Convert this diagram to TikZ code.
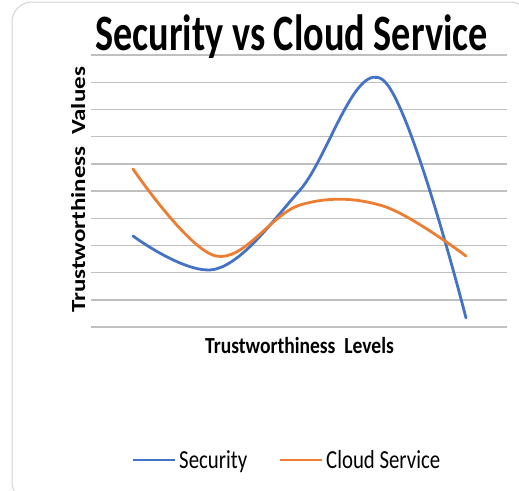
\documentclass[tikz,border=0pt]{standalone}
\usepackage{fontspec}
\setmainfont{Carlito}
\usetikzlibrary{calc}
\definecolor{secblue}{HTML}{4472C4}
\definecolor{cloudorange}{HTML}{ED7D31}
\definecolor{gridgray}{HTML}{BFBFBF}
\definecolor{framegray}{HTML}{D4D4D4}
\tikzset{
  gridline/.style={draw=gridgray, line width=1.4pt},
  series/.style={line width=2.8pt, line cap=round, line join=round},
  legendline/.style={line width=2.8pt},
  lbl/.style={inner sep=0pt, text=black},
}
\begin{document}
\begin{tikzpicture}[x=1pt, y=-1pt]
  \useasboundingbox (0,0) rectangle (519,490);
  \fill[white] (0,0) rectangle (519,490);
  \begin{scope}
    \clip (0,0) rectangle (519,490);
    \draw[framegray, line width=1pt, rounded corners=20pt] (12,2) rectangle (530,502);
  \end{scope}

  % horizontal value gridlines
  \foreach \k in {0,...,10}
    \draw[gridline] (91,{55+27.2*\k}) -- (507,{55+27.2*\k});

  % data series
  \draw[series, secblue] plot[smooth, tension=0.6] coordinates
    {(133,236) (216,269) (300,190) (383,80) (466,318)};
  \draw[series, cloudorange] plot[smooth, tension=0.6] coordinates
    {(133,169) (216,256) (300,205) (383,206) (466,256)};

  % titles
  \node[lbl, anchor=base] (title) at (291.5,50)
    {\scalebox{0.75}[1]{\fontsize{51}{51}\selectfont\bfseries Security vs Cloud Service}};
  \node[lbl, anchor=base, rotate=90] (ylab) at (85,190)
    {\scalebox{1}[0.8]{\fontsize{25}{25}\selectfont\bfseries Trustworthiness\ \ Values}};
  \node[lbl, anchor=base] (xlab) at (299.5,353)
    {\scalebox{0.85}[1]{\fontsize{23}{23}\selectfont\bfseries Trustworthiness\ \ Levels}};

  % legend
  \coordinate (l1a) at (133,460);
  \coordinate (l1b) at (175,460);
  \coordinate (l2a) at (280,460);
  \coordinate (l2b) at (322,460);
  \draw[legendline, secblue] (l1a) -- (l1b);
  \draw[legendline, cloudorange] (l2a) -- (l2b);
  \node[lbl, anchor=base west] (leg1) at (179,468)
    {\scalebox{0.8}[1]{\fontsize{26}{26}\selectfont Security}};
  \node[lbl, anchor=base west] (leg2) at (326,468)
    {\scalebox{0.8}[1]{\fontsize{26}{26}\selectfont Cloud Service}};
\end{tikzpicture}
\end{document}
